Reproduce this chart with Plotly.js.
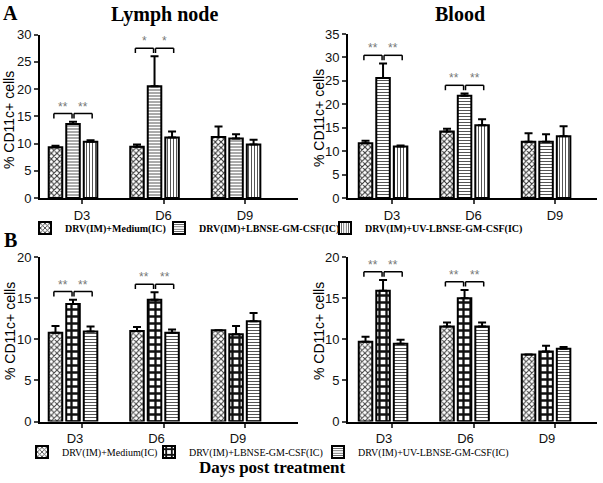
<!DOCTYPE html>
<html>
<head>
<meta charset="utf-8">
<script src="https://cdn.plot.ly/plotly-3.0.1.min.js"></script>
<style>html,body{margin:0;padding:0;background:#fff;}#chart{width:603px;height:483px;}</style>
</head>
<body>
<div id="chart"></div>
<script>
// ---- data ----
const days = ['D3', 'D6', 'D9'];
const seriesNames = ['DRV(IM)+Medium(IC)', 'DRV(IM)+LBNSE-GM-CSF(IC)', 'DRV(IM)+UV-LBNSE-GM-CSF(IC)'];

// Panel A – Lymph node
const aLymphMedium = [9.3, 9.4, 11.2];
const aLymphMediumErr = [0.3, 0.4, 1.9];
const aLymphLbnse = [13.6, 20.5, 10.9];
const aLymphLbnseErr = [0.4, 5.5, 0.8];
const aLymphUv = [10.3, 11.1, 9.8];
const aLymphUvErr = [0.3, 1.1, 0.9];
const aLymphSig = ['**', '*', ''];

// Panel A – Blood
const aBloodMedium = [11.7, 14.2, 12.0];
const aBloodMediumErr = [0.5, 0.6, 1.8];
const aBloodLbnse = [25.6, 21.8, 12.0];
const aBloodLbnseErr = [3.1, 0.5, 1.6];
const aBloodUv = [11.0, 15.5, 13.2];
const aBloodUvErr = [0.2, 1.3, 2.1];
const aBloodSig = ['**', '**', ''];

// Panel B – Lymph node
const bLymphMedium = [10.8, 11.0, 11.1];
const bLymphMediumErr = [0.8, 0.5, 0];
const bLymphLbnse = [14.3, 14.8, 10.6];
const bLymphLbnseErr = [0.5, 0.9, 1.0];
const bLymphUv = [10.95, 10.8, 12.2];
const bLymphUvErr = [0.6, 0.4, 1.0];
const bLymphSig = ['**', '**', ''];

// Panel B – Blood
const bBloodMedium = [9.7, 11.55, 8.15];
const bBloodMediumErr = [0.6, 0.5, 0];
const bBloodLbnse = [15.9, 15.0, 8.5];
const bBloodLbnseErr = [1.3, 1.0, 0.7];
const bBloodUv = [9.45, 11.55, 8.85];
const bBloodUvErr = [0.5, 0.5, 0.2];
const bBloodSig = ['**', '**', ''];

// ---- styles ----
const patternsA = [
  {shape: 'x', size: 4, solidity: 0.45, fgcolor: '#333', bgcolor: '#fff'},
  {shape: '-', size: 3, solidity: 0.35, fgcolor: '#555', bgcolor: '#fff'},
  {shape: '|', size: 3, solidity: 0.35, fgcolor: '#555', bgcolor: '#fff'}
];
const patternsB = [
  {shape: 'x', size: 4, solidity: 0.45, fgcolor: '#444', bgcolor: '#fff'},
  {shape: '+', size: 7, solidity: 0.55, fgcolor: '#111', bgcolor: '#fff'},
  {shape: '-', size: 3, solidity: 0.35, fgcolor: '#555', bgcolor: '#fff'}
];

const barW = 0.166, pitch = 0.215, shift = -0.11;
const xIdx = days.map((d, i) => i);

const panels = [
  {xa: 'x', ya: 'y', ymax: 30, means: [aLymphMedium, aLymphLbnse, aLymphUv], errs: [aLymphMediumErr, aLymphLbnseErr, aLymphUvErr], sig: aLymphSig, pats: patternsA, legends: ['legend', 'legend2', 'legend3'], show: true},
  {xa: 'x2', ya: 'y2', ymax: 35, means: [aBloodMedium, aBloodLbnse, aBloodUv], errs: [aBloodMediumErr, aBloodLbnseErr, aBloodUvErr], sig: aBloodSig, pats: patternsA, legends: ['legend', 'legend2', 'legend3'], show: false},
  {xa: 'x3', ya: 'y3', ymax: 20, means: [bLymphMedium, bLymphLbnse, bLymphUv], errs: [bLymphMediumErr, bLymphLbnseErr, bLymphUvErr], sig: bLymphSig, pats: patternsB, legends: ['legend4', 'legend5', 'legend6'], show: true},
  {xa: 'x4', ya: 'y4', ymax: 20, means: [bBloodMedium, bBloodLbnse, bBloodUv], errs: [bBloodMediumErr, bBloodLbnseErr, bBloodUvErr], sig: bBloodSig, pats: patternsB, legends: ['legend4', 'legend5', 'legend6'], show: false}
];

const traces = [];
const shapes = [];
const annotations = [];

panels.forEach(p => {
  p.means.forEach((vals, s) => {
    traces.push({
      type: 'bar',
      name: seriesNames[s],
      x: xIdx, y: vals,
      xaxis: p.xa, yaxis: p.ya,
      width: barW,
      offset: shift + (s - 1) * pitch - barW / 2,
      marker: {color: '#fff', line: {color: '#000', width: 2}, pattern: p.pats[s]},
      error_y: {type: 'data', symmetric: false, array: p.errs[s], arrayminus: vals.map(() => 0), color: '#000', thickness: 2, width: 4},
      legend: p.legends[s],
      showlegend: p.show,
      hoverinfo: 'skip'
    });
  });
  // significance brackets
  p.sig.forEach((txt, d) => {
    if (!txt) return;
    let top = 0;
    p.means.forEach((vals, s) => { top = Math.max(top, vals[d] + p.errs[s][d]); });
    const h = top + 0.05 * p.ymax;
    const t = 0.03 * p.ymax;
    const c = [0, 1, 2].map(s => d + shift + (s - 1) * pitch);
    const pairs = [[c[0] - 0.02, c[1] - 0.012], [c[1] + 0.012, c[2] + 0.02]];
    pairs.forEach(([x1, x2]) => {
      const ln = {color: '#000', width: 1.5};
      shapes.push({type: 'line', xref: p.xa, yref: p.ya, x0: x1, x1: x1, y0: h - t, y1: h, line: ln});
      shapes.push({type: 'line', xref: p.xa, yref: p.ya, x0: x1, x1: x2, y0: h, y1: h, line: ln});
      shapes.push({type: 'line', xref: p.xa, yref: p.ya, x0: x2, x1: x2, y0: h - t, y1: h, line: ln});
      annotations.push({xref: p.xa, yref: p.ya, x: (x1 + x2) / 2, y: h, text: txt, showarrow: false,
        yanchor: 'bottom', yshift: -2, font: {family: 'Arial, Liberation Sans', size: 12, color: '#777'}});
    });
  });
});

const txtAnn = (text, x, y, size, opts) => Object.assign({
  xref: 'paper', yref: 'paper', x: x / 603, y: 1 - y / 483, text: text, showarrow: false,
  xanchor: 'center', yanchor: 'middle',
  font: {family: 'Liberation Serif, Times New Roman, serif', size: size, color: '#000', weight: 'bold'}
}, opts || {});

annotations.push(txtAnn('A', 10, 13, 20));
annotations.push(txtAnn('B', 10, 240, 20));
annotations.push(txtAnn('Lymph node', 164, 14, 20));
annotations.push(txtAnn('Blood', 460, 14, 20));
annotations.push(txtAnn('Days post treatment', 272, 467, 17));
const yTitleFont = {family: 'Arial, Liberation Sans', size: 14, color: '#000'};
[[9, 120], [319, 118], [10, 331], [319, 331]].forEach(([x, y]) => {
  annotations.push(txtAnn('% CD11c+ cells', x, y, 14, {textangle: -90, font: yTitleFont}));
});

const tickFont = {family: 'Arial, Liberation Sans', size: 13, color: '#111'};
const xAxisBase = (domain, range, lshift) => ({
  domain: domain, range: range, tickvals: xIdx, ticktext: days, ticks: 'outside', ticklen: 4, tickwidth: 2,
  showline: true, linewidth: 2, linecolor: '#000', showgrid: false, zeroline: false, tickfont: tickFont,
  ticklabelshift: lshift, fixedrange: true
});
const yAxisBase = (domain, ymax, anchor) => ({
  domain: domain, range: [0, ymax], dtick: 5, ticks: 'outside', ticklen: 4, tickwidth: 2,
  showline: true, linewidth: 2, linecolor: '#000', showgrid: false, zeroline: false, tickfont: tickFont,
  anchor: anchor, fixedrange: true
});

const dxL = [40 / 603, 298 / 603], dxR = [348 / 603, 597 / 603];
const dyA = [1 - 198 / 483, 1 - 34.5 / 483], dyA2 = [1 - 198 / 483, 1 - 34 / 483];
const dyB = [1 - 421.5 / 483, 1 - 257 / 483];

const legendAt = (xpx, ypx, bold) => ({
  orientation: 'h', x: xpx / 603, y: 1 - ypx / 483, xanchor: 'left', yanchor: 'middle',
  font: Object.assign({family: 'Liberation Serif, Times New Roman, serif', size: 10, color: '#000'}, bold ? {weight: 'bold'} : {}),
  bgcolor: 'rgba(0,0,0,0)'
});

const layout = {
  width: 603, height: 483,
  margin: {l: 0, r: 0, t: 0, b: 0},
  paper_bgcolor: '#fff', plot_bgcolor: '#fff',
  barmode: 'overlay',
  xaxis: Object.assign(xAxisBase(dxL, [-0.515, 2.65], 0), {anchor: 'y'}),
  yaxis: yAxisBase(dyA, 30, 'x'),
  xaxis2: Object.assign(xAxisBase(dxR, [-0.54, 2.515], 0), {anchor: 'y2'}),
  yaxis2: yAxisBase(dyA2, 35, 'x2'),
  xaxis3: Object.assign(xAxisBase(dxL, [-0.515, 2.65], -7), {anchor: 'y3'}),
  yaxis3: yAxisBase(dyB, 20, 'x3'),
  xaxis4: Object.assign(xAxisBase(dxR, [-0.54, 2.515], -8), {anchor: 'y4'}),
  yaxis4: yAxisBase(dyB, 20, 'x4'),
  legend: legendAt(25, 228, true),
  legend2: legendAt(159, 228, true),
  legend3: legendAt(325, 228, true),
  legend4: legendAt(22, 452, false),
  legend5: legendAt(149, 452, false),
  legend6: legendAt(318, 452, false),
  shapes: shapes,
  annotations: annotations
};

Plotly.newPlot('chart', traces, layout, {staticPlot: true, displayModeBar: false});
</script>
</body>
</html>
